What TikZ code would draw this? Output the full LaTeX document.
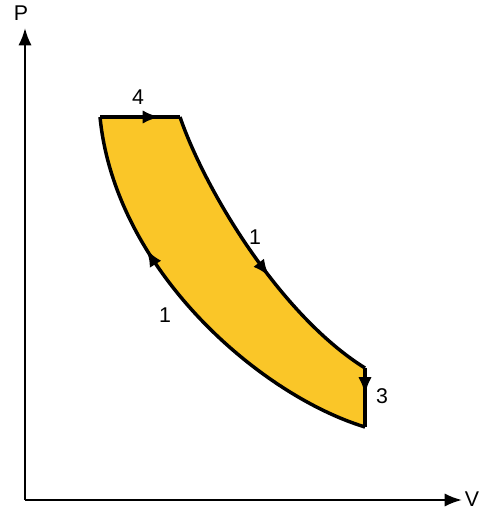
\documentclass[tikz,border=0pt]{standalone}
\usepackage{fontspec}
\setmainfont{Liberation Sans}
\usetikzlibrary{arrows.meta,decorations.markings}
\definecolor{cyclefill}{RGB}{250,198,40}
\tikzset{
  axis/.style={line width=1.8pt,-{Latex[length=13pt,width=10pt]}},
  edge/.style={line width=2.6pt,line join=miter},
  flowmark/.style={postaction={decorate,decoration={markings,
     mark=at position #1 with {\arrow{Latex[length=13pt,width=10pt]}}}}},
  lbl/.style={font=\fontsize{16}{19}\selectfont,inner sep=0pt}
}
\begin{document}
\begin{tikzpicture}[x=0.75pt,y=-0.75pt]
\useasboundingbox (0,0) rectangle (482,512);
% corners
\coordinate (O) at (25,500);
\coordinate (Ptip) at (25,28);
\coordinate (Vtip) at (462,500);
\coordinate (TL) at (100,117);
\coordinate (TR) at (180,117);
\coordinate (BR) at (365,368);
\coordinate (BB) at (365,427);
% fill
\fill[cyclefill] (TL) -- (TR) .. controls (205,190) and (280,315) .. (BR)
  -- (BB) .. controls (260,395) and (115,270) .. (TL) -- cycle;
% edges
\draw[edge,flowmark=0.75] (TL) -- (TR);
\draw[edge,flowmark=0.58] (TR) .. controls (205,190) and (280,315) .. (BR);
\draw[edge,flowmark=0.45] (BR) -- (BB);
\draw[edge,flowmark=0.67] (BB) .. controls (260,395) and (115,270) .. (TL);
% axes
\draw[axis] (O) -- (Ptip);
\draw[axis] (O) -- (Vtip);
% labels
\node[lbl] (p) at (21,13) {P};
\node[lbl] (v) at (472,499) {V};
\node[lbl] (l4) at (138,97) {4};
\node[lbl] (l1a) at (255,237) {1};
\node[lbl] (l1b) at (165,315) {1};
\node[lbl] (l3) at (382,396) {3};
\end{tikzpicture}
\end{document}
